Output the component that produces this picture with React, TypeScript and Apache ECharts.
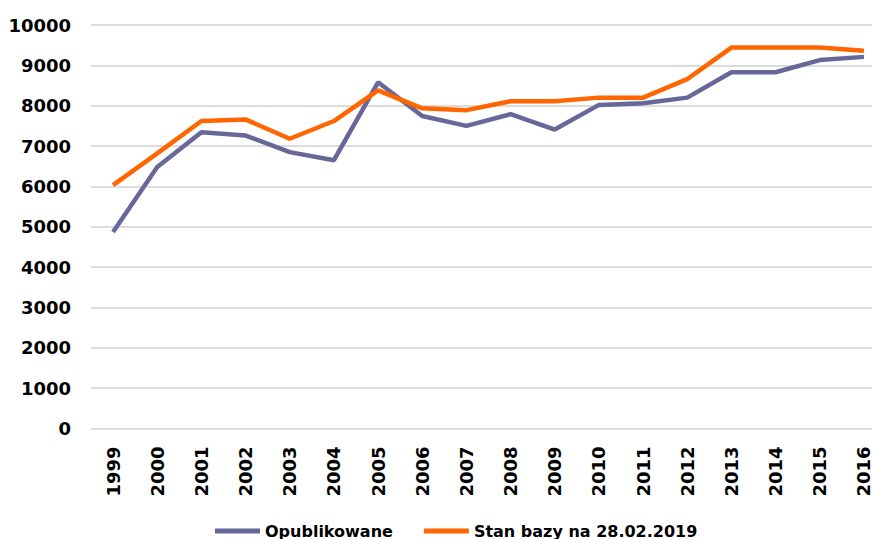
import React, { useEffect, useRef } from "react";
import * as echarts from "echarts";

const years = ["1999","2000","2001","2002","2003","2004","2005","2006","2007","2008","2009","2010","2011","2012","2013","2014","2015","2016"];
const opublikowane = [4870, 6480, 7340, 7260, 6850, 6650, 8580, 7745, 7500, 7790, 7410, 8020, 8060, 8200, 8830, 8830, 9130, 9210];
const stanBazy = [6030, 6820, 7620, 7660, 7180, 7620, 8380, 7935, 7890, 8110, 8110, 8200, 8200, 8660, 9440, 9440, 9440, 9360];
const seriesNames = ["Opublikowane", "Stan bazy na 28.02.2019"];

const FONT = "DejaVu Sans";

export default function App() {
  const ref = useRef<HTMLDivElement>(null);
  useEffect(() => {
    if (!ref.current) return;
    const chart = echarts.init(ref.current, undefined, { renderer: "svg" });
    chart.setOption({
      animation: false,
      backgroundColor: "#ffffff",
      grid: { left: 91, right: 14, top: 25, height: 403.5, containLabel: false },
      legend: {
        left: 210,
        top: 518,
        icon: "rect",
        itemWidth: 45,
        itemHeight: 5,
        itemGap: 31,
        textStyle: { fontFamily: FONT, fontWeight: "bold", fontSize: 16, color: "#000" },
        data: seriesNames,
      },
      xAxis: {
        type: "category",
        data: years,
        boundaryGap: true,
        axisLine: { show: false },
        axisTick: { show: false },
        axisLabel: {
          rotate: 90,
          margin: 18,
          interval: 0,
          fontFamily: FONT,
          fontWeight: "bold",
          fontSize: 18,
          color: "#000",
        },
      },
      yAxis: {
        type: "value",
        min: 0,
        max: 10000,
        interval: 1000,
        axisLine: { show: false },
        axisTick: { show: false },
        splitLine: { lineStyle: { color: "#d0d0d0", width: 1.5 } },
        axisLabel: {
          margin: 20,
          fontFamily: FONT,
          fontWeight: "bold",
          fontSize: 18,
          color: "#000",
          formatter: (v: number) => String(v),
        },
      },
      series: [
        {
          name: seriesNames[0],
          type: "line",
          data: opublikowane,
          symbol: "none",
          lineStyle: { color: "#676799", width: 4.5 },
          itemStyle: { color: "#676799" },
        },
        {
          name: seriesNames[1],
          type: "line",
          data: stanBazy,
          symbol: "none",
          lineStyle: { color: "#ff6600", width: 4.5 },
          itemStyle: { color: "#ff6600" },
        },
      ],
    });
    return () => chart.dispose();
  }, []);
  return (
    <div
      style={{ position: "fixed", left: 0, top: 0, width: 872, height: 539, overflow: "hidden", background: "#fff" }}
    >
      <div ref={ref} style={{ width: 900, height: 539 }} />
    </div>
  );
}
